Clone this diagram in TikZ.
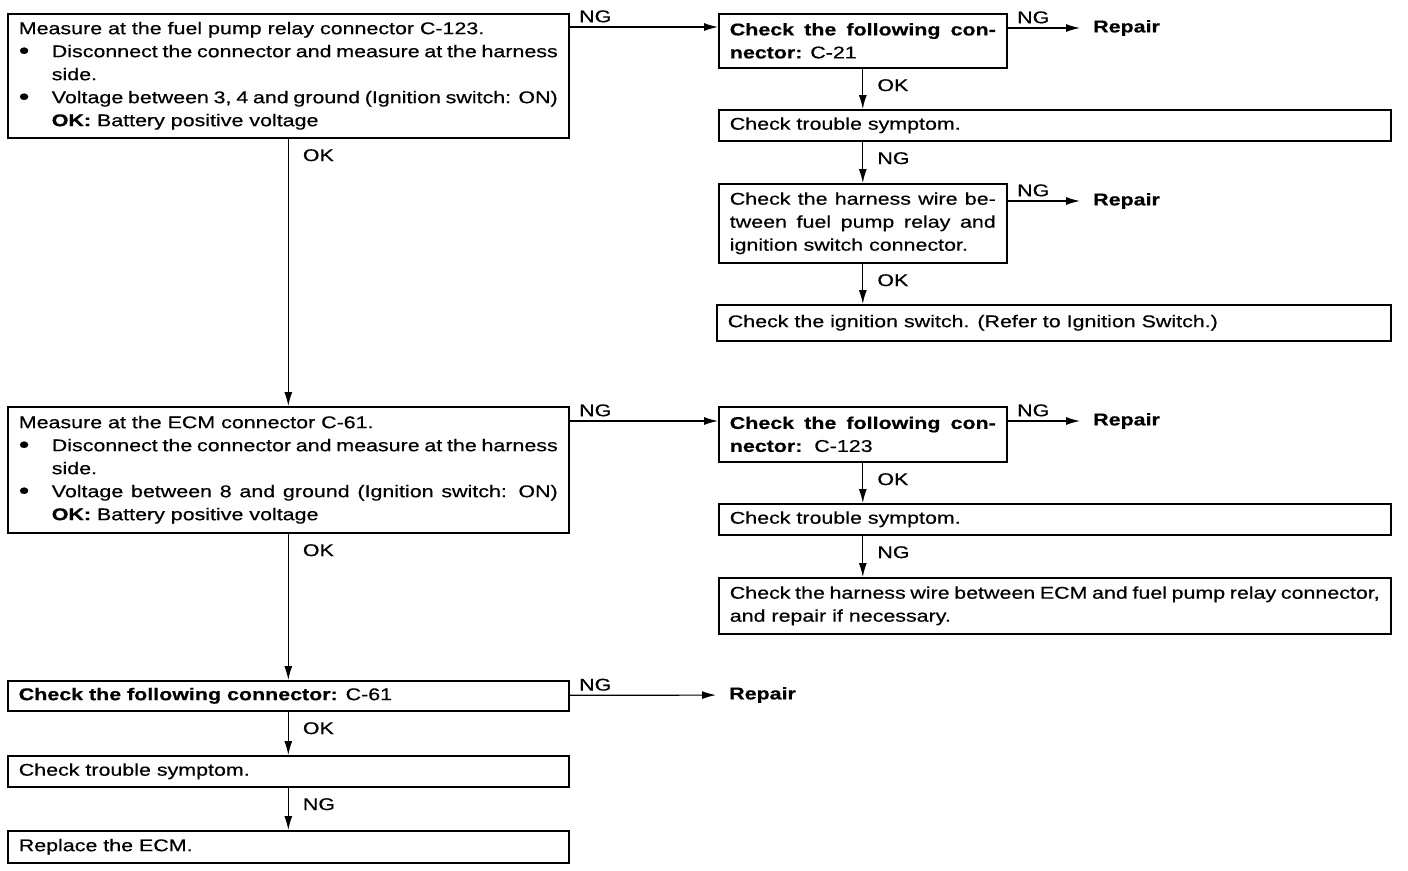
\documentclass[tikz,border=0pt]{standalone}
\usepackage{fontspec}
\setmainfont{Liberation Sans}[FakeStretch=1.26,FakeBold=0.5]
\usetikzlibrary{arrows.meta,positioning}
\setlength{\parindent}{0pt}
\newcommand\dotmark{\raisebox{-1.5pt}{\fontsize{24pt}{23pt}\selectfont\textbullet}}
\newcommand\itemline[1]{{\leftskip=33pt\noindent\llap{\makebox[33pt][l]{\dotmark}}#1\par}}

\begin{document}
\begin{tikzpicture}[
  x=1pt,y=-1pt,
  every node/.style={font=\fontsize{17pt}{23pt}\selectfont},
  box/.style={draw,line width=1.6pt,anchor=north west,align=justify,
              inner xsep=11pt,inner ysep=0pt,text width=#1},
  leftbox/.style={box=539pt},
  narrowbox/.style={box=266pt},
  widebox/.style={box=650pt},
  repair/.style={anchor=west,inner xsep=13pt,font=\fontsize{17pt}{23pt}\selectfont\bfseries},
  oktag/.style={pos=0,anchor=north west,inner sep=0pt,xshift=14pt,yshift=-10pt},
  ngtag/.style={pos=0,anchor=south west,inner sep=0pt,xshift=9pt,yshift=4pt},
  arrow/.style={-{Latex[length=14pt,width=8pt]},line width=1.2pt}
]
  \useasboundingbox (0,0) rectangle (1408,870);

  % left column
  \node[leftbox,minimum height=124pt] (relay) at (7,13) {Measure at the fuel pump relay connector C-123.\par
    \itemline{Disconnect the connector and measure at the harness\linebreak side.}
    \itemline{Voltage between 3, 4 and ground (Ignition switch: ON)\linebreak\textbf{OK:} Battery positive voltage}};
  \node[leftbox,minimum height=126pt] (ecmmeas) at (7,406) {Measure at the ECM connector C-61.\par
    \itemline{Disconnect the connector and measure at the harness\linebreak side.}
    \itemline{Voltage between 8 and ground (Ignition switch: ON)\linebreak\textbf{OK:} Battery positive voltage}};
  \node[leftbox,minimum height=30pt] (conn3) at (7,680) {\textbf{Check the following connector:} C-61};
  \node[leftbox,minimum height=31pt] (sympt3) at (7,755) {Check trouble symptom.};
  \node[leftbox,minimum height=32pt] (ecm) at (7,830) {Replace the ECM.};
  \node[repair] (rep4) at (716,695) {Repair};

  % right column, upper branch
  \node[narrowbox,minimum height=54pt] (conn1) at (718,13) {\textbf{Check the following con-}\linebreak\textbf{nector:} C-21};
  \node[widebox,minimum height=31pt] (sympt1) at (718,109) {Check trouble symptom.};
  \node[narrowbox,minimum height=79pt] (harn1) at (718,183) {Check the harness wire be-\linebreak tween fuel pump relay and\linebreak ignition switch connector.};
  \node[box=652pt,minimum height=36pt] (ign) at (716,304) {Check the ignition switch. (Refer to Ignition Switch.)};
  \node[repair] (rep1) at (1080,28) {Repair};
  \node[repair] (rep2) at (1080,201) {Repair};

  % right column, lower branch
  \node[narrowbox,minimum height=55pt] (conn2) at (718,406) {\textbf{Check the following con-}\linebreak\textbf{nector:}\ \ C-123};
  \node[widebox,minimum height=31pt] (sympt2) at (718,503) {Check trouble symptom.};
  \node[widebox,minimum height=56pt] (harn2) at (718,577) {Check the harness wire between ECM and fuel pump relay connector,\linebreak and repair if necessary.};
  \node[repair] (rep3) at (1080,421) {Repair};

  % left connectors
  \draw[arrow] (relay) -- node[oktag] {OK} (ecmmeas);
  \draw[arrow] (ecmmeas) -- node[oktag] {OK} (conn3);
  \draw[arrow] (conn3) -- node[oktag] {OK} (sympt3);
  \draw[arrow] (sympt3) -- node[oktag] {NG} (ecm);
  \draw[arrow] (conn3) -- node[ngtag] {NG} (rep4);
  \draw[arrow] ([yshift=-14pt]relay.north east) -- node[ngtag] {NG} ([yshift=-14pt]relay.north east -| conn1.west);
  \draw[arrow] ([yshift=-15pt]ecmmeas.north east) -- node[ngtag] {NG} ([yshift=-15pt]ecmmeas.north east -| conn2.west);

  % right connectors
  \draw[arrow] (conn1) -- node[oktag] {OK} (conn1 |- sympt1.north);
  \draw[arrow] (sympt1.south -| harn1) -- node[oktag] {NG} (harn1);
  \draw[arrow] (harn1) -- node[oktag] {OK} (harn1 |- ign.north);
  \draw[arrow] (conn1.east |- rep1) -- node[ngtag] {NG} (rep1);
  \draw[arrow] (harn1.east |- rep2) -- node[ngtag] {NG} (rep2);
  \draw[arrow] (conn2) -- node[oktag] {OK} (conn2 |- sympt2.north);
  \draw[arrow] (sympt2.south -| conn2) -- node[oktag] {NG} (harn2.north -| conn2);
  \draw[arrow] (conn2.east |- rep3) -- node[ngtag] {NG} (rep3);
\end{tikzpicture}
\end{document}
